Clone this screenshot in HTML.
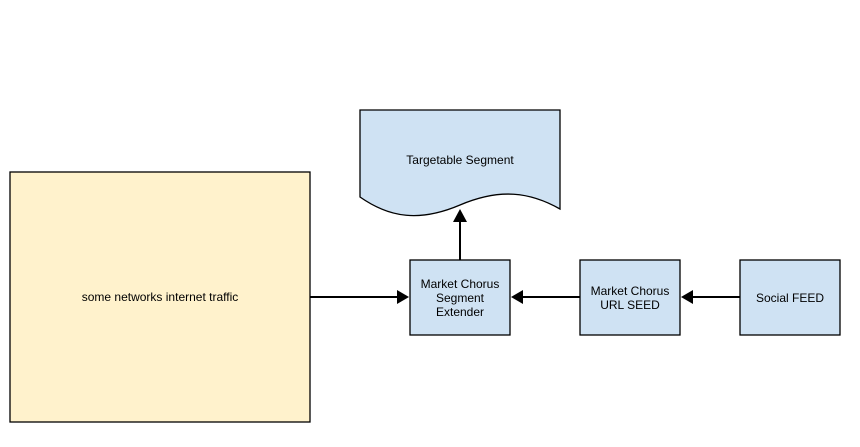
<!DOCTYPE html>
<html><head><style>
body{margin:0;background:#fff;}
svg text{font-family:"Liberation Sans",Arial,sans-serif;font-size:12px;fill:#000;}
</style></head><body>
<svg width="860" height="442" viewBox="0 0 860 442" xmlns="http://www.w3.org/2000/svg">
<rect x="10" y="172" width="300" height="250" fill="#fff2cc" stroke="#000" stroke-width="1.3"/>
<text x="160" y="301" text-anchor="middle">some networks internet traffic</text>
<path d="M360,110 H560 V209 C530,192 500,188 460,205 C420,222 390,218 360,197 Z" fill="#cfe2f3" stroke="#000" stroke-width="1.3"/>
<text x="460" y="164" text-anchor="middle">Targetable Segment</text>
<rect x="410" y="260" width="100" height="75" fill="#cfe2f3" stroke="#000" stroke-width="1.3"/>
<text x="460" y="288" text-anchor="middle">Market Chorus</text>
<text x="460" y="302" text-anchor="middle">Segment</text>
<text x="460" y="316" text-anchor="middle">Extender</text>
<rect x="580" y="260" width="100" height="75" fill="#cfe2f3" stroke="#000" stroke-width="1.3"/>
<text x="630" y="295" text-anchor="middle">Market Chorus</text>
<text x="630" y="309" text-anchor="middle">URL SEED</text>
<rect x="740" y="260" width="100" height="75" fill="#cfe2f3" stroke="#000" stroke-width="1.3"/>
<text x="790" y="302" text-anchor="middle">Social FEED</text>
<g stroke="#000" stroke-width="2" fill="none">
<line x1="310" y1="297" x2="398" y2="297"/>
<line x1="580" y1="297" x2="522" y2="297"/>
<line x1="740" y1="297" x2="692" y2="297"/>
<line x1="460" y1="260" x2="460" y2="222"/>
</g>
<g fill="#000">
<polygon points="409,297 397,290 397,304"/>
<polygon points="511,297 523,290 523,304"/>
<polygon points="681,297 693,290 693,304"/>
<polygon points="460,209 453,222 467,222"/>
</g>
</svg>
</body></html>
